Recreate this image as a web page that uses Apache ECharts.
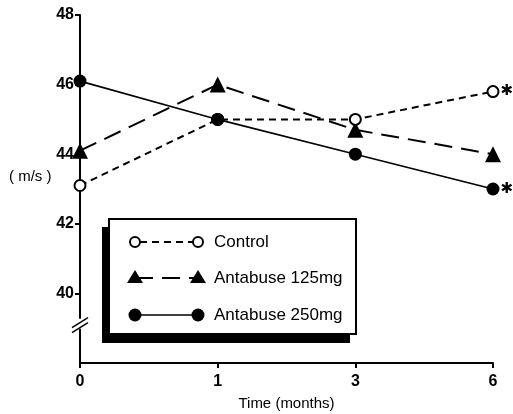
<!DOCTYPE html>
<html><head><meta charset="utf-8">
<script src="https://cdn.jsdelivr.net/npm/echarts@6/dist/echarts.min.js"></script>
<style>html,body{margin:0;padding:0;background:#fff}#c{width:513px;height:414px}</style>
</head><body><div id="c"></div>
<script>
const categories = ['0', '1', '3', '6'];
const controlValues = [43.1, 45.0, 45.0, 45.8];
const antabuse125Values = [44.1, 46.0, 44.7, 44.0];
const antabuse250Values = [46.1, 45.0, 44.0, 43.0];
const yTickValues = [40, 42, 44, 46, 48];
const seriesNames = ['Control', 'Antabuse 125mg', 'Antabuse 250mg'];
const starred = { 'Control': [3], 'Antabuse 250mg': [3] };

const chart = echarts.init(document.getElementById('c'));
const FONT = 'Liberation Sans, Arial, sans-serif';

function withStars(name, vals) {
  return vals.map((v, i) => (starred[name] || []).includes(i)
    ? { value: v, label: { show: true, position: 'right', distance: 1, formatter: '\u2731', color: '#000', fontSize: 15, fontFamily: 'DejaVu Sans' } }
    : v);
}

const option = {
  animation: false,
  backgroundColor: '#fff',
  grid: { left: 80, right: 20, top: 15, bottom: 51, containLabel: false, outerBoundsMode: 'none' },
  xAxis: {
    type: 'category', data: categories, boundaryGap: false,
    axisLine: { lineStyle: { color: '#000', width: 2 } },
    axisTick: { show: true, length: 5, lineStyle: { color: '#000', width: 2 } },
    axisLabel: { color: '#000', fontWeight: 'bold', fontSize: 16, fontFamily: FONT, margin: 11 },
    name: 'Time (months)', nameLocation: 'middle', nameGap: 33,
    nameTextStyle: { color: '#000', fontSize: 15, fontFamily: FONT }
  },
  yAxis: {
    type: 'value', min: 38, max: 48, interval: 2,
    splitLine: { show: false },
    axisLine: { show: true, lineStyle: { color: '#000', width: 2 } },
    axisTick: { show: true, length: 5, customValues: yTickValues, lineStyle: { color: '#000', width: 2 } },
    axisLabel: { color: '#000', fontWeight: 'bold', fontSize: 16, fontFamily: FONT, margin: 6, customValues: yTickValues }
  },
  series: [
    {
      name: seriesNames[0], type: 'line', data: withStars(seriesNames[0], controlValues),
      symbol: 'circle', symbolSize: 11,
      itemStyle: { color: '#fff', borderColor: '#000', borderWidth: 2 },
      lineStyle: { color: '#000', width: 2, type: [7, 5] }, z: 3
    },
    {
      name: seriesNames[1], type: 'line', data: antabuse125Values,
      symbol: 'triangle', symbolSize: 16,
      itemStyle: { color: '#000' },
      lineStyle: { color: '#000', width: 2, type: [18, 9] }, z: 2
    },
    {
      name: seriesNames[2], type: 'line', data: withStars(seriesNames[2], antabuse250Values),
      symbol: 'circle', symbolSize: 13,
      itemStyle: { color: '#000' },
      lineStyle: { color: '#000', width: 1.6 }, z: 4
    }
  ]
};
chart.setOption(option);

// Axis break marks and annotations
const pBreak = chart.convertToPixel({ gridIndex: 0 }, [0, 39.1]);
const bx = pBreak[0], by = pBreak[1];

const legendRowY = [242, 278, 315];
const legendGraphics = [
  { type: 'rect', shape: { x: 102, y: 227, width: 248, height: 116 }, style: { fill: '#000' }, z: 10 },
  { type: 'rect', shape: { x: 109, y: 219, width: 247, height: 115 }, style: { fill: '#fff', stroke: '#000', lineWidth: 2 }, z: 11 },
  // Control
  { type: 'line', shape: { x1: 140, y1: legendRowY[0], x2: 193, y2: legendRowY[0] }, style: { stroke: '#000', lineWidth: 2, lineDash: [7, 5] }, z: 12 },
  { type: 'circle', shape: { cx: 135, cy: legendRowY[0], r: 5 }, style: { fill: '#fff', stroke: '#000', lineWidth: 2 }, z: 13 },
  { type: 'circle', shape: { cx: 198, cy: legendRowY[0], r: 5 }, style: { fill: '#fff', stroke: '#000', lineWidth: 2 }, z: 13 },
  // 125
  { type: 'line', shape: { x1: 135, y1: legendRowY[1], x2: 198, y2: legendRowY[1] }, style: { stroke: '#000', lineWidth: 2, lineDash: [18, 9] }, z: 12 },
  { type: 'polygon', shape: { points: [[135, legendRowY[1] - 8], [127, legendRowY[1] + 5], [143, legendRowY[1] + 5]] }, style: { fill: '#000' }, z: 13 },
  { type: 'polygon', shape: { points: [[198, legendRowY[1] - 8], [190, legendRowY[1] + 5], [206, legendRowY[1] + 5]] }, style: { fill: '#000' }, z: 13 },
  // 250
  { type: 'line', shape: { x1: 135, y1: legendRowY[2], x2: 198, y2: legendRowY[2] }, style: { stroke: '#000', lineWidth: 1.6 }, z: 12 },
  { type: 'circle', shape: { cx: 135, cy: legendRowY[2], r: 6.5 }, style: { fill: '#000' }, z: 13 },
  { type: 'circle', shape: { cx: 198, cy: legendRowY[2], r: 6.5 }, style: { fill: '#000' }, z: 13 }
];
seriesNames.forEach((n, i) => {
  legendGraphics.push({ type: 'text', x: 214, y: legendRowY[i], style: { text: n, fill: '#000', font: '17px ' + FONT, textVerticalAlign: 'middle' }, z: 13 });
});

chart.setOption({
  graphic: [
    { type: 'rect', shape: { x: bx - 2, y: by - 6, width: 4, height: 10 }, style: { fill: '#fff' }, z: 5 },
    { type: 'line', shape: { x1: bx - 8, y1: by + 3, x2: bx + 8, y2: by - 7 }, style: { stroke: '#000', lineWidth: 1.5 }, z: 6 },
    { type: 'line', shape: { x1: bx - 8, y1: by + 8, x2: bx + 8, y2: by - 2 }, style: { stroke: '#000', lineWidth: 1.5 }, z: 6 },
    { type: 'text', x: 9, y: 177, style: { text: '( m/s )', fill: '#000', font: '15px ' + FONT, textVerticalAlign: 'middle' }, z: 6 },
    ...legendGraphics
  ]
});
</script></body></html>
